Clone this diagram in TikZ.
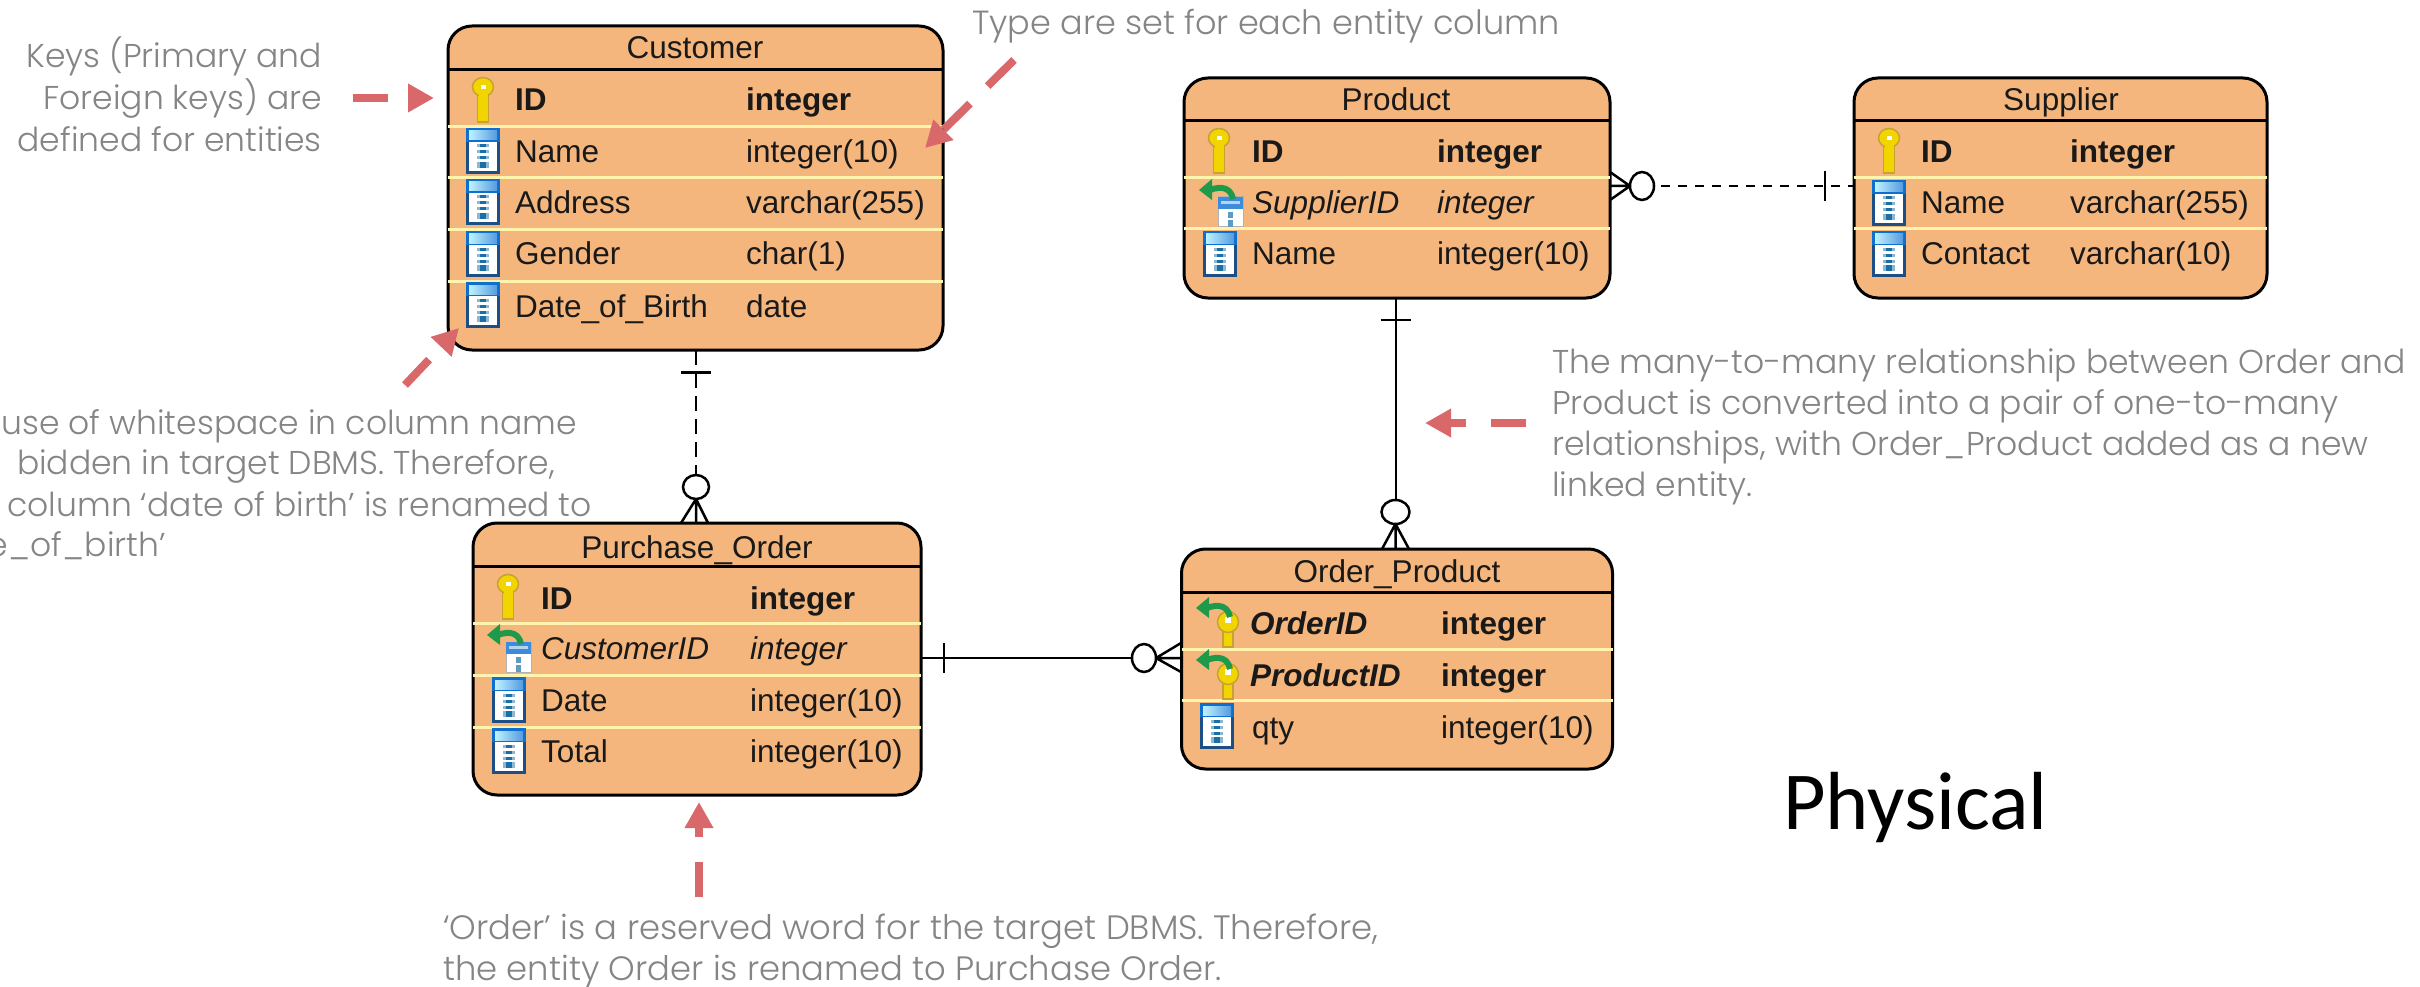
\documentclass[tikz,border=0pt]{standalone}
\usepackage{fontspec}
\setmainfont{Liberation Sans}
\newfontfamily\notefont{Poppins Light}
\newfontfamily\bigfont{Carlito}
\usetikzlibrary{arrows.meta,calc}
\definecolor{entfill}{HTML}{F4B67C}
\definecolor{sepcol}{HTML}{FFF4AE}
\definecolor{notecol}{HTML}{858585}
\definecolor{redcol}{HTML}{D9686A}
\definecolor{keyfill}{HTML}{F2D400}
\definecolor{keyedge}{HTML}{C6A235}
\definecolor{colframe}{HTML}{1B4F85}
\definecolor{coltop}{HTML}{0D6FD0}
\definecolor{coldash}{HTML}{1A6FA8}
\definecolor{fkgreen}{HTML}{1E9A4A}
\tikzset{
  entity/.style={draw=black,line width=3pt,fill=entfill,rounded corners=24pt,inner sep=0pt,outer sep=0pt},
  hdrline/.style={draw=black,line width=3pt},
  sepline/.style={draw=sepcol,line width=3pt},
  titletext/.style={inner sep=0pt,anchor=base,font=\fontsize{31.5}{36}\selectfont,text=black!90},
  celltext/.style={inner sep=0pt,anchor=base west,text=black!90},
  notetext/.style={inner sep=0pt,text=notecol,font=\notefont\fontsize{33}{41}\selectfont},
  relsolid/.style={draw=black,line width=2pt},
  reldashlong/.style={draw=black,line width=2pt,dash pattern=on 15pt off 8pt},
  reldashshort/.style={draw=black,line width=2.5pt,dash pattern=on 9pt off 8pt},
  relmark/.style={draw=black,line width=2.5pt},
  crowcircle/.style={fill=white,draw=black,line width=2.5pt},
  redarrow/.style={draw=redcol,line width=8pt,dash pattern=on 35pt off 25pt,
    -{Triangle[length=26pt,width=27pt,fill=redcol,color=redcol]}},
}
\newcommand{\iconkey}[2]{\begin{scope}[shift={(#1,#2)}]
  \fill[keyfill,draw=keyedge,line width=1.5pt] (-5.5,-6) rectangle (5.5,22);
  \fill[keyfill,draw=keyedge,line width=1.5pt] (0,-13) ellipse [x radius=10.5,y radius=9.5];
  \fill[keyfill] (-4.5,-6) rectangle (4.5,0);
  \fill[white] (-2.5,-15) rectangle (2.5,-11);
\end{scope}}
\newcommand{\iconcol}[2]{\begin{scope}[shift={(#1,#2)}]
  \fill[colframe] (-17,-23) rectangle (17,23);
  \fill[white] (-14,-9) rectangle (14,20);
  \fill[coltop] (-17,-23) rectangle (17,-9);
  \shade[left color=blue!20!cyan!25!white,right color=coltop!70!white] (-14,-20) rectangle (14,-11);
  \foreach \dy in {-5,1,7}{\fill[coldash!50!white] (-6,\dy-1.5) rectangle (6,\dy+1.5);\fill[coldash] (-3,\dy-1.5) rectangle (3,\dy+1.5);}
  \fill[coldash!50!white] (-6,11) rectangle (6,17);\fill[coldash] (-3,11) rectangle (3,17);
\end{scope}}
\newcommand{\fkarrow}[2]{\begin{scope}[shift={(#1,#2)}]
  \draw[fkgreen,line width=6pt] (2,-6) .. controls (0,-16) and (-8,-20) .. (-21,-15);
  \fill[fkgreen] (-32,-15) -- (-19,-26) -- (-19,-5) -- cycle;
\end{scope}}
\newcommand{\iconfkcol}[2]{\begin{scope}[shift={(#1,#2)}]
  \fill[white,draw=gray!60,line width=1pt] (-3,-6) rectangle (22,24);
  \fill[coltop!80!white] (-3,-6) rectangle (22,6);
  \fill[white!70!coltop] (0,-2) rectangle (19,1);
  \fill[coldash!70!white] (7,9) rectangle (12,15);
  \fill[coldash!70!white] (7,17) rectangle (12,24);
  \begin{scope}[shift={(10,5)}]\fkarrow{0}{-3}\end{scope}
\end{scope}}
\newcommand{\iconfkkey}[2]{\begin{scope}[shift={(#1,#2)}]
  \fill[keyfill,draw=keyedge,line width=1.5pt] (-5,2) rectangle (5,24);
  \fill[keyfill,draw=keyedge,line width=1.5pt] (0,-1) ellipse [x radius=10.5,y radius=10.5];
  \fill[white] (-3,-6) rectangle (3,0);
  \fkarrow{0}{0}
\end{scope}}
% id, x name, x type, y centre, font switch, name, type
\newcommand{\erow}[7]{
  \node[celltext,font=\fontsize{31.5}{36}#5\selectfont] (#1n) at (#2,#4+11) {#6};
  \node[celltext,font=\fontsize{31.5}{36}#5\selectfont] (#1t) at (#3,#4+11) {#7};
}
\newcommand{\hsep}[2]{\draw[sepline] (#1.west |- 0,#2) -- (#1.east |- 0,#2);}
\newcommand{\hhdr}[2]{\draw[hdrline] (#1.west |- 0,#2) -- (#1.east |- 0,#2);}
\begin{document}
\begin{tikzpicture}[x=1pt,y=-1pt]
\useasboundingbox (0,0) rectangle (2420,987);
\clip (0,0) rectangle (2420,987);
\fill[white] (0,0) rectangle (2420,987);

% entities
\node[entity,minimum width=495pt,minimum height=324pt] (customer) at (695.5,188) {};
\node[entity,minimum width=448pt,minimum height=272pt] (purchase) at (697,659) {};
\node[entity,minimum width=431pt,minimum height=220pt] (orderprod) at (1397,659) {};
\node[entity,minimum width=426pt,minimum height=220pt] (product) at (1397,188) {};
\node[entity,minimum width=413pt,minimum height=220pt] (supplier) at (2060.5,188) {};

% connector reference points
\coordinate (cbar) at (696,372.5);
\coordinate (pbar) at (944,658);
\coordinate (prbar) at (1395.5,320);
\coordinate (sbar) at (1825,186);

% connectors
\draw[reldashlong] (cbar |- customer.south) -- (cbar |- purchase.north);
\draw[relsolid] (purchase.east |- pbar) -- (orderprod.west |- pbar);
\draw[relsolid] (prbar |- product.south) -- (prbar |- orderprod.north);
\draw[reldashshort] (product.east |- sbar) -- (supplier.west |- sbar);

% connector ends
\draw[relmark] ($(cbar)+(-15,0)$) -- ($(cbar)+(15,0)$);
\fill[crowcircle] (696,487) ellipse [x radius=13,y radius=12];
\coordinate (cfoot) at (696,499);
\draw[relmark] (cfoot) -- (681,523) (cfoot) -- (708,523) (cfoot) -- (696,523);

\draw[relmark] ($(pbar)+(0,-15)$) -- ($(pbar)+(0,15)$);
\fill[crowcircle] (1144,658) ellipse [x radius=12,y radius=14];
\coordinate (pfoot) at (1156,658);
\draw[relmark] (pfoot) -- (1181,643) (pfoot) -- (1181,658) (pfoot) -- (1181,672);

\draw[relmark] ($(prbar)+(-15,0)$) -- ($(prbar)+(15,0)$);
\fill[crowcircle] (1395.5,512) ellipse [x radius=14,y radius=12];
\coordinate (prfoot) at (1395.5,524);
\draw[relmark] (prfoot) -- (1382,549) (prfoot) -- (1395.5,549) (prfoot) -- (1409,549);

\draw[relmark] ($(sbar)+(0,-15)$) -- ($(sbar)+(0,15)$);
\fill[crowcircle] (1642,186) ellipse [x radius=12,y radius=14];
\coordinate (sfoot) at (1630,186);
\draw[relmark] (sfoot) -- (1610,172) (sfoot) -- (1610,186) (sfoot) -- (1610,200);

% customer
\hhdr{customer}{69.6}
\hsep{customer}{126.6}\hsep{customer}{178}\hsep{customer}{230}\hsep{customer}{281}
\node[titletext] (customertitle) at (695,59) {Customer};
\iconkey{483}{100}\iconcol{483}{151}\iconcol{483}{202}\iconcol{483}{254}\iconcol{483}{305}
\erow{cu1}{515}{746}{100}{\bfseries}{ID}{integer}
\erow{cu2}{515}{746}{152}{}{Name}{integer(10)}
\erow{cu3}{515}{746}{203}{}{Address}{varchar(255)}
\erow{cu4}{515}{746}{254}{}{Gender}{char(1)}
\erow{cu5}{515}{746}{306}{}{Date\_of\_Birth}{date}

% purchase order
\hhdr{purchase}{566}
\hsep{purchase}{623}\hsep{purchase}{675}\hsep{purchase}{727}
\node[titletext] (purchasetitle) at (697,558) {Purchase\_Order};
\iconkey{508}{597}\iconfkcol{509}{648}\iconcol{509}{700}\iconcol{509}{751}
\erow{pu1}{541}{750}{598}{\bfseries}{ID}{integer}
\erow{pu2}{541}{750}{648}{\itshape}{CustomerID}{integer}
\erow{pu3}{541}{750}{700}{}{Date}{integer(10)}
\erow{pu4}{541}{750}{751}{}{Total}{integer(10)}

% order product
\hhdr{orderprod}{592}
\hsep{orderprod}{649}\hsep{orderprod}{700}
\node[titletext] (orderprodtitle) at (1397,582) {Order\_Product};
\iconfkkey{1228}{623}\iconfkkey{1228}{675}\iconcol{1217}{726}
\erow{op1}{1250}{1441}{623}{\bfseries\itshape}{OrderID}{\upshape integer}
\erow{op2}{1250}{1441}{675}{\bfseries\itshape}{ProductID}{\upshape integer}
\erow{op3}{1252}{1441}{727}{}{qty}{integer(10)}

% product
\hhdr{product}{121}
\hsep{product}{178}\hsep{product}{229}
\node[titletext] (producttitle) at (1396,111) {Product};
\iconkey{1219}{151}\iconfkcol{1221}{203}\iconcol{1220}{254}
\erow{pr1}{1252}{1437}{152}{\bfseries}{ID}{integer}
\erow{pr2}{1252}{1437}{203}{\itshape}{SupplierID}{integer}
\erow{pr3}{1252}{1437}{254}{}{Name}{integer(10)}

% supplier
\hhdr{supplier}{121}
\hsep{supplier}{178}\hsep{supplier}{229}
\node[titletext] (suppliertitle) at (2061,111) {Supplier};
\iconkey{1889}{151}\iconcol{1889}{203}\iconcol{1889}{254}
\erow{su1}{1921}{2070}{152}{\bfseries}{ID}{integer}
\erow{su2}{1921}{2070}{203}{}{Name}{varchar(255)}
\erow{su3}{1921}{2070}{254}{}{Contact}{varchar(10)}

% notes
\node[notetext,anchor=north east,align=right,font=\notefont\fontsize{33}{42}\selectfont] (notekeys) at (322,36) {Keys (Primary and\\Foreign keys) are\\defined for entities};
\node[notetext,anchor=base west,font=\notefont\fontsize{33.5}{41}\selectfont] (notetype) at (972,35) {Type are set for each entity column};
\node[notetext,anchor=base east] (notew1) at (577,434) {use of whitespace in column name};
\node[notetext,anchor=base east] (notew2) at (555,474) {bidden in target DBMS. Therefore,};
\node[notetext,anchor=base east] (notew3) at (592,516) {column ‘date of birth’ is renamed to};
\node[notetext,anchor=base east] (notew4) at (166,556) {e\_of\_birth’};
\node[notetext,anchor=north west,align=left] (notemany) at (1552,348) {The many-to-many relationship between Order and\\Product is converted into a pair of one-to-many\\relationships, with Order\_Product added as a new\\linked entity.};
\node[notetext,anchor=north west,align=left,font=\notefont\fontsize{33.8}{41}\selectfont] (noteorder) at (443,914) {‘Order’ is a reserved word for the target DBMS. Therefore,\\the entity Order is renamed to Purchase Order.};
\node[inner sep=0pt,anchor=base west,font=\bigfont\fontsize{82.4}{90}\selectfont] (physical) at (1783,829) {Physical};

% red arrows
\coordinate (ra1s) at (353,98); \coordinate (ra1e) at (434,98);
\draw[redarrow,dash pattern=on 35pt off 100pt] (ra1s) -- (ra1e);
\coordinate (ra2s) at (1014,60); \coordinate (ra2e) at (925,148);
\draw[redarrow,dash pattern=on 37pt off 25pt] (ra2s) -- (ra2e);
\coordinate (ra3s) at (405,385); \coordinate (ra3e) at (459,328);
\draw[redarrow,dash pattern=on 35pt off 100pt] (ra3s) -- (ra3e);
\coordinate (ra4s) at (699,897); \coordinate (ra4e) at (699,802);
\draw[redarrow] (ra4s) -- (ra4e);
\coordinate (ra5s) at (1526,423); \coordinate (ra5e) at (1425,423);
\draw[redarrow] (ra5s) -- (ra5e);
\end{tikzpicture}
\end{document}
